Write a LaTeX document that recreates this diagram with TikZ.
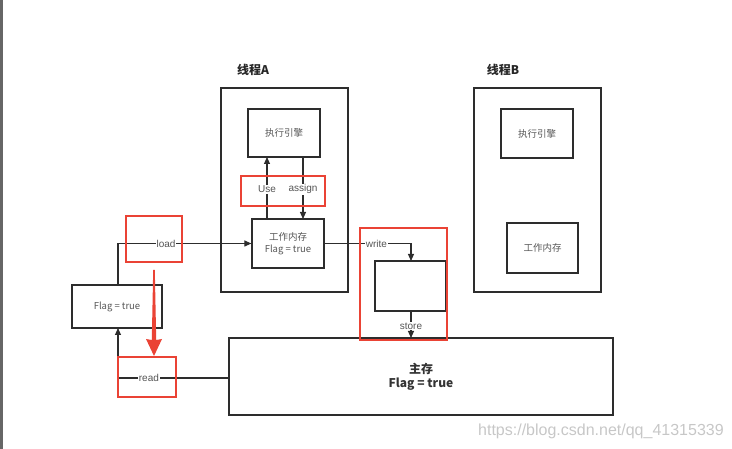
\documentclass[tikz,border=0pt]{standalone}
\usepackage{fontspec}
\setmainfont{Liberation Sans}
\newfontfamily\cjk{Noto Sans CJK SC}
\usetikzlibrary{arrows.meta}
\definecolor{redc}{RGB}{234,67,53}
\definecolor{linec}{RGB}{45,45,45}
\definecolor{txtc}{RGB}{85,85,85}
\begin{document}
\begin{tikzpicture}[x=1pt,y=-1pt,
  box/.style={draw=linec, line width=1.2pt, inner sep=0pt, align=center, text=txtc, font=\cjk\fontsize{9.5}{12}\selectfont},
  redbox/.style={draw=redc, line width=1.4pt},
  conn/.style={draw=linec, line width=1.1pt, -{Triangle[length=7pt,width=6pt]}},
  lbl/.style={font=\fontsize{10}{11}\selectfont, text=txtc, fill=white, inner sep=1pt},
  ttl/.style={font=\cjk\bfseries\fontsize{12}{14}\selectfont, text=black!85}]
\useasboundingbox (0,0) rectangle (732,449);
\fill[black!60] (0,0) rectangle (2.5,449);
% thread A
\node[ttl] (tA) at (253,70) {线程A};
\node[box, minimum width=127, minimum height=204] (thA) at (284.5,190) {};
\node[box, minimum width=72, minimum height=48] (eA) at (284,133) {执行引擎};
\node[box, minimum width=72, minimum height=49] (wA) at (288,243.5) {工作内存\\Flag = true};
% thread B
\node[ttl] (tB) at (503,70) {线程B};
\node[box, minimum width=127, minimum height=204] (thB) at (537.5,190) {};
\node[box, minimum width=72, minimum height=49] (eB) at (537,133.5) {执行引擎};
\node[box, minimum width=71, minimum height=50] (wB) at (542.5,248) {工作内存};
% main memory
\node[box, minimum width=384, minimum height=77, font=\cjk\bfseries\fontsize{12}{14}\selectfont, text=black!80] (mm) at (421,376.5) {主存\\Flag = true};
% flag copy
\node[box, minimum width=90, minimum height=43] (fl) at (117,306.5) {Flag = true};
% intermediate box
\node[box, minimum width=71, minimum height=50] (sb) at (410.5,286) {};
% connectors
\coordinate (uT) at (267,157);
\coordinate (uB) at (267,219);
\draw[conn] (uB) -- node[lbl, pos=0.48] {Use} (uT);
\coordinate (aT) at (303,157);
\coordinate (aB) at (303,219);
\draw[conn] (aT) -- node[lbl, pos=0.52] {assign} (aB);
\coordinate (lS) at (118,285);
\draw[conn] (lS) |- node[lbl, pos=0.68] {load} (wA.west);
\coordinate (rE) at (118,328);
\draw[conn] (mm.west |- 0,378) -| node[lbl, pos=0.36] {read} (rE);
\coordinate (wE) at (411,261);
\draw[conn] (wA.east) -| node[lbl, pos=0.3] {write} (wE);
\coordinate (sE) at (411,338);
\draw[conn] (wE |- sb.south) -- node[lbl, pos=0.55] {store} (sE);
% red highlight boxes
\draw[redbox] (241,176) rectangle (325,206);
\draw[redbox] (126,216) rectangle (182,262);
\draw[redbox] (118,357) rectangle (176,397);
\draw[redbox] (360,228) rectangle (447,340);
% red arrow
\fill[redc] (153.2,270) -- (154.8,270) -- (156.2,340) -- (162,339) -- (154,356) -- (146,339) -- (151.8,340) -- cycle;
% watermark
\node[anchor=west, inner sep=0pt, text=black!22, font=\fontsize{16}{18}\selectfont] (wm) at (478,431) {https://blog.csdn.net/qq\_41315339};
\end{tikzpicture}
\end{document}
